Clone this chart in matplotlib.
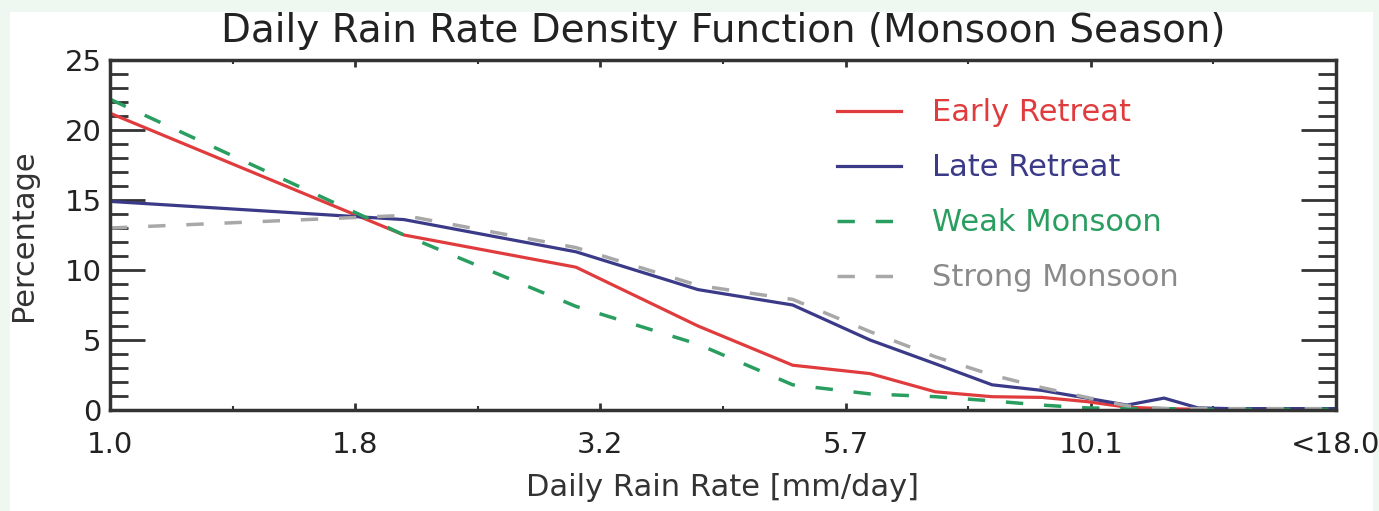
import numpy as np
import matplotlib
matplotlib.use("Agg")
import matplotlib.pyplot as plt
from matplotlib.patches import Rectangle
from matplotlib.ticker import FixedLocator, NullFormatter, MultipleLocator

plt.rcParams['font.family'] = ['DejaVu Sans']

# daily rain rate bins (mm/day)
rain_rate = [1, 2, 3, 4, 5, 6, 7, 8, 9, 10, 11, 12, 13, 14, 15, 16, 17, 18]

early_retreat = [21.2, 12.5, 10.2, 6.0, 3.2, 2.6, 1.3, 0.95, 0.9, 0.6, 0.2, 0.1,
                 0.05, 0.05, 0.05, 0.05, 0.05, 0.05]
late_retreat = [14.9, 13.6, 11.3, 8.6, 7.5, 5.0, 3.3, 1.8, 1.4, 0.85, 0.35, 0.85,
                0.15, 0.1, 0.1, 0.1, 0.1, 0.1]
weak_monsoon = [22.2, 12.5, 7.4, 4.7, 1.8, 1.15, 0.95, 0.65, 0.35, 0.15, 0.1, 0.1,
                0.05, 0.05, 0.05, 0.05, 0.05, 0.05]
strong_monsoon = [13.0, 13.9, 11.6, 8.9, 7.9, 5.6, 3.8, 2.5, 1.6, 0.9, 0.3, 0.1,
                  0.1, 0.1, 0.1, 0.1, 0.1, 0.1]

xtick_labels = ['1.0', '1.8', '3.2', '5.7', '10.1', '<18.0']

fig = plt.figure(figsize=(13.79, 5.11), dpi=100, facecolor='#eff8f0')
fig.patches.append(Rectangle((10 / 1379, 0), (1373 - 10) / 1379, (511 - 12) / 511,
                             transform=fig.transFigure, facecolor='white',
                             edgecolor='none', zorder=-1))

ax = fig.add_axes([110 / 1379, (511 - 410) / 511, (1336 - 110) / 1379, 350 / 511])
ax.set_facecolor('white')

red = '#e03c3e'
navy = '#3a3a88'
green = '#2a9e60'
gray = '#a8a8a8'

ax.plot(rain_rate, early_retreat, color=red, lw=2.3, label='Early Retreat')
ax.plot(rain_rate, late_retreat, color=navy, lw=2.3, label='Late Retreat')
ax.plot(rain_rate, weak_monsoon, color=green, lw=2.5, dashes=(5, 6), label='Weak Monsoon')
ax.plot(rain_rate, strong_monsoon, color=gray, lw=2.5, dashes=(5, 6), label='Strong Monsoon')

ax.set_xscale('log')
ax.set_xlim(1, 18)
ax.set_ylim(0, 25)

xt = 18 ** (np.arange(6) / 5)
ax.xaxis.set_major_locator(FixedLocator(xt))
ax.xaxis.set_minor_locator(FixedLocator(18 ** (np.arange(1, 10, 2) / 10)))
ax.set_xticklabels(xtick_labels)
ax.xaxis.set_minor_formatter(NullFormatter())
ax.yaxis.set_major_locator(MultipleLocator(5))
ax.yaxis.set_minor_locator(MultipleLocator(1))

ax.tick_params(axis='y', which='major', direction='in', length=25, width=2,
               right=True, labelsize=21, pad=6, color='#333333', labelcolor='#222222')
ax.tick_params(axis='y', which='minor', direction='in', length=13, width=2,
               right=True, color='#333333')
ax.tick_params(axis='x', which='major', direction='in', length=5, width=2,
               top=True, labelsize=21, pad=15, color='#333333', labelcolor='#222222')
ax.tick_params(axis='x', which='minor', direction='in', length=3, width=1.5,
               top=True, color='#333333')
for s in ax.spines.values():
    s.set_linewidth(2.5)
    s.set_color('#333333')

ax.set_title('Daily Rain Rate Density Function (Monsoon Season)', fontsize=28,
             color='#222222', pad=13)
ax.set_xlabel('Daily Rain Rate [mm/day]', fontsize=22, color='#333333', labelpad=10)
ax.set_ylabel('Percentage', fontsize=22, color='#333333', labelpad=19)

leg = ax.legend(loc='upper left', bbox_to_anchor=(0.583, 0.925), frameon=False,
                fontsize=22, handlelength=2.1, handletextpad=1.0, labelspacing=0.85,
                borderaxespad=0)
for txt, c in zip(leg.get_texts(), [red, navy, green, '#8a8a8a']):
    txt.set_color(c)

fig.savefig('out.png', dpi=100, facecolor=fig.get_facecolor())
